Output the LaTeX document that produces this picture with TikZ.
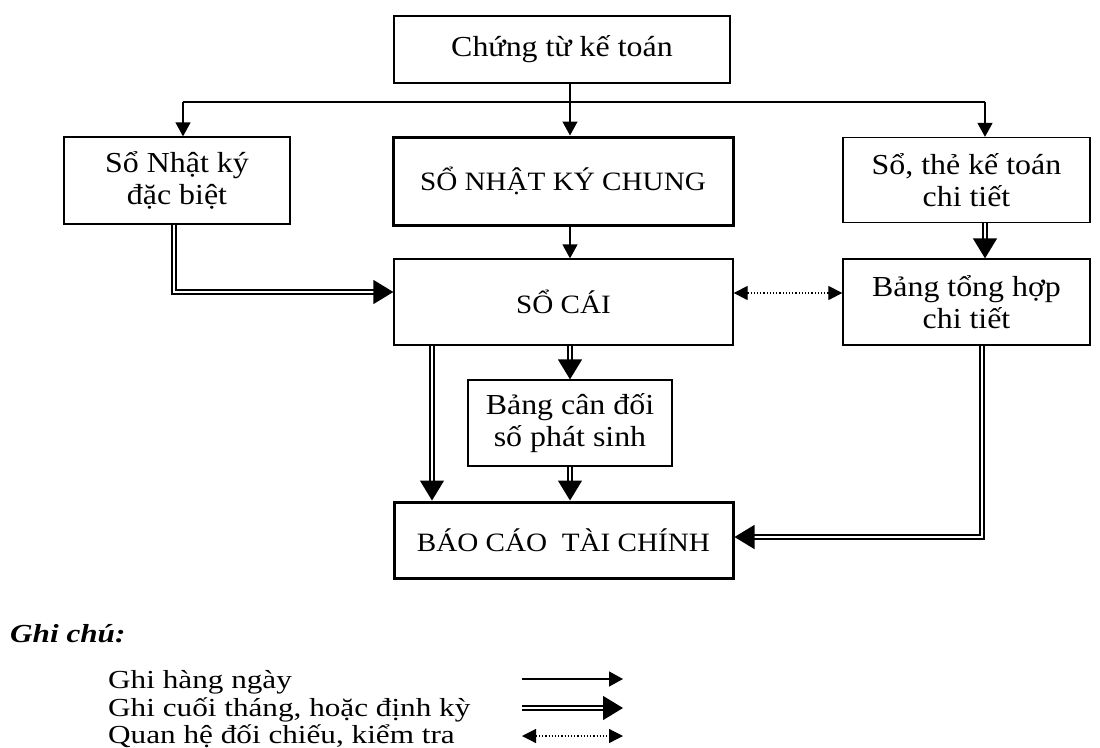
\documentclass[tikz,border=0pt]{standalone}
\usepackage{fontspec}
\setmainfont{Liberation Serif}[FakeStretch=1.1]
\newfontfamily\legendfamily{Liberation Serif}[FakeStretch=1.2]
\usetikzlibrary{arrows.meta,calc}
\newcommand\boxfont{\fontsize{29}{32}\selectfont}
\newcommand\capfont{\fontsize{26.5}{32}\selectfont}
\newcommand\keyfont{\legendfamily\fontsize{26}{29}\selectfont}
\begin{document}
\begin{tikzpicture}[x=1pt,y=-1pt,
  box/.style={draw, line width=1.3pt, align=center, inner sep=0pt, font=\boxfont},
  thickbox/.style={box, line width=3pt},
  daily/.style={line width=1.4pt, -{Triangle[length=14pt,width=15pt]}},
  periodic/.style={double, double distance=2.6pt, line width=1.3pt,
                   -{Triangle[length=20pt,width=24pt]}},
  check/.style={dotted, line width=1.2pt,
                {Triangle[length=14pt,width=14pt]}-{Triangle[length=14pt,width=14pt]}},
  legendtext/.style={anchor=base west, inner sep=0pt, font=\keyfont}]
\useasboundingbox (0,0) rectangle (1100,747);

% boxes
\node[box, minimum width=336pt, minimum height=67pt] (ct) at (562,49.5) {Chứng từ kế toán};
\node[box, minimum width=226pt, minimum height=87pt] (nkdb) at (177,180.5) {Sổ Nhật ký\\đặc biệt};
\node[thickbox, minimum width=340pt, minimum height=88pt, font=\capfont] (nkc) at (563,181) {SỔ NHẬT KÝ CHUNG};
\node[box, minimum width=247pt, minimum height=85pt] (stt) at (966.5,180) {Sổ, thẻ kế toán\\chi tiết};
\node[box, minimum width=339pt, minimum height=86pt, font=\capfont] (sc) at (563.5,302) {SỔ CÁI};
\node[box, minimum width=247pt, minimum height=86pt] (bth) at (966.5,302) {Bảng tổng hợp\\chi tiết};
\node[box, minimum width=204pt, minimum height=86pt] (bcd) at (570,423) {Bảng cân đối\\số phát sinh};
\node[thickbox, minimum width=339pt, minimum height=76pt, font=\capfont] (bctc) at (563.5,540) {BÁO CÁO~ TÀI CHÍNH};

% reference columns for the connectors
\coordinate (mid) at (570,0);
\coordinate (busL) at (183,102);
\coordinate (busR) at (985,102);
\coordinate (nkx) at (174,0);
\coordinate (lx) at (432,0);
\coordinate (rx) at (982,0);

% daily postings
\draw[line width=1.4pt] (busL) -- (busR);
\draw[daily] (ct.south -| mid) -- (nkc.north -| mid);
\draw[daily] (busL) -- (busL |- nkdb.north);
\draw[daily] (busR) -- (busR |- stt.north);
\draw[daily] (nkc.south -| mid) -- (sc.north -| mid);

% month-end postings
\draw[periodic] (nkdb.south -| nkx) |- ($(sc.west)+(0,-10)$);
\draw[periodic] (stt.south -| busR) -- (bth.north -| busR);
\draw[periodic] (sc.south -| mid) -- (bcd.north -| mid);
\draw[periodic] (bcd.south -| mid) -- (bctc.north -| mid);
\draw[periodic] (sc.south -| lx) -- (bctc.north -| lx);
\draw[periodic] (bth.south -| rx) |- ($(bctc.east)+(0,-3)$);

% cross-check
\draw[check] ($(sc.east)+(0,-9)$) -- ($(bth.west)+(0,-9)$);

% legend
\node[legendtext, font=\keyfont\bfseries\itshape] (gc) at (10,642) {Ghi chú:};
\node[legendtext] (l1) at (108,688) {Ghi hàng ngày};
\node[legendtext] (l2) at (108,716) {Ghi cuối tháng, hoặc định kỳ};
\node[legendtext] (l3) at (108,743) {Quan hệ đối chiếu, kiểm tra};
\coordinate (a1s) at (522,679); \coordinate (a1e) at (623,679);
\coordinate (a2s) at (522,708); \coordinate (a2e) at (623,708);
\coordinate (a3s) at (522,736); \coordinate (a3e) at (623,736);
\draw[daily] (a1s) -- (a1e);
\draw[periodic] (a2s) -- (a2e);
\draw[check] (a3s) -- (a3e);
\end{tikzpicture}
\end{document}
